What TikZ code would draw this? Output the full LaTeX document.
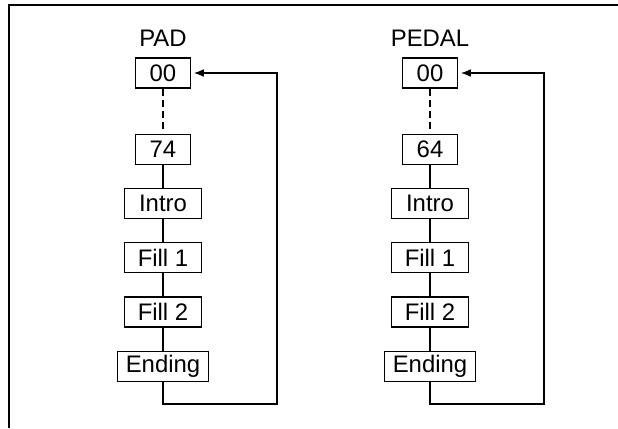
\documentclass[tikz,border=0pt]{standalone}
\usepackage{fontspec}
\setmainfont{Liberation Sans}
\usetikzlibrary{positioning,arrows.meta}
\begin{document}
\begin{tikzpicture}[auto]
	\tikzstyle{panel} = [ draw, rectangle, line width=0.9pt, minimum height=0.75cm, inner sep=0pt, font={\fontsize{17}{20}\selectfont} ];
	\tikzstyle{value} = [ panel, minimum width=1.375cm ];
	\tikzstyle{part} = [ panel, minimum width=1.925cm ];
	\tikzstyle{title} = [ font={\fontsize{17}{20}\selectfont} ];
	\tikzstyle{link} = [ line width=0.9pt ];
	\tikzstyle{back} = [ ->, >={Latex[length=7pt,width=5.5pt]}, line width=0.9pt, shorten >=2pt ];

	\useasboundingbox (0,0) rectangle (15.45,-10.7);
	\draw[line width=1.3pt] (0.225,-10.7) -- (0.225,-0.125) -- (15.45,-0.125);

	\foreach \c/\name/\top/\x in {pad/PAD/74/4.075, pedal/PEDAL/64/10.75} {
		\node[value] (\c0) at (\x,-1.825) {00};
		\node[title, above=0.15cm of \c0] (\c-title) {\name};
		\node[value, below=1.125cm of \c0] (\c1) {\top};
		\draw[link, dash pattern=on 5pt off 3pt] (\c0) -- (\c1);

		\foreach \p [count=\pi from 2] in {Intro,Fill 1,Fill 2} {
			\pgfmathparse{int(\pi-1)}
			\let \li \pgfmathresult
			\node[part, below=0.575cm of \c\li] (\c\pi) {\p};
			\draw[link] (\c\li) -- (\c\pi);
		}

		\node[panel, minimum width=2.275cm, below=0.575cm of \c4] (\c5) {Ending};
		\draw[link] (\c4) -- (\c5);
		\draw[back] (\c5.south) -- ++(0,-0.55) -- ++(2.85,0) |- (\c0.east);
	}

\end{tikzpicture}
\end{document}
